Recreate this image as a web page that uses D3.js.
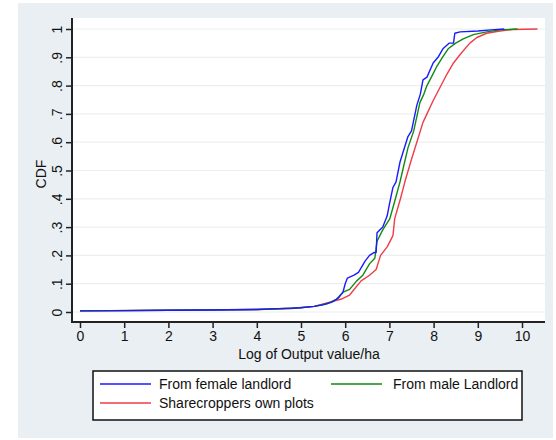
<!DOCTYPE html>
<html>
<head>
<meta charset="utf-8">
<script src="https://cdn.jsdelivr.net/npm/d3@7/dist/d3.min.js"></script>
<style>
  html, body { margin: 0; padding: 0; background: #ffffff; }
  svg { display: block; }
  text { font-family: "Liberation Sans", Arial, Helvetica, sans-serif; fill: #111; }
</style>
</head>
<body>
<svg id="chart" width="556" height="440"></svg>
<script>
// Log output value per hectare (x) and cumulative share (y) for each group
const femaleX = [0, 1, 2, 3, 4, 4.5, 5.0, 5.3, 5.5, 5.7, 5.85, 5.95, 6.0, 6.05, 6.2, 6.3, 6.45, 6.55, 6.65, 6.7, 6.72, 6.85, 6.95, 7.0, 7.08, 7.15, 7.24, 7.3, 7.42, 7.5, 7.62, 7.7, 7.76, 7.85, 7.99, 8.1, 8.21, 8.35, 8.45, 8.48, 8.6, 9.0, 9.3, 9.6];
const femaleY = [0.004, 0.005, 0.006, 0.007, 0.009, 0.012, 0.015, 0.02, 0.025, 0.035, 0.05, 0.07, 0.1, 0.12, 0.13, 0.14, 0.18, 0.2, 0.21, 0.21, 0.28, 0.3, 0.34, 0.38, 0.44, 0.46, 0.53, 0.56, 0.62, 0.64, 0.73, 0.77, 0.82, 0.83, 0.88, 0.9, 0.93, 0.95, 0.95, 0.985, 0.99, 0.993, 0.997, 1.0];

const maleX = [0, 2, 4, 4.8, 5.3, 5.6, 5.8, 5.95, 6.1, 6.26, 6.4, 6.55, 6.67, 6.72, 6.85, 7.01, 7.1, 7.24, 7.3, 7.42, 7.55, 7.69, 7.78, 7.85, 7.95, 8.08, 8.2, 8.33, 8.5, 8.67, 8.9, 9.2, 9.5, 9.9];
const maleY = [0.004, 0.006, 0.009, 0.013, 0.02, 0.03, 0.045, 0.07, 0.08, 0.11, 0.13, 0.17, 0.19, 0.25, 0.29, 0.33, 0.38, 0.46, 0.5, 0.58, 0.64, 0.74, 0.77, 0.8, 0.83, 0.87, 0.9, 0.93, 0.95, 0.965, 0.98, 0.99, 0.997, 1.0];

const ownX = [0, 2, 4, 4.8, 5.3, 5.65, 5.9, 6.1, 6.36, 6.55, 6.7, 6.8, 6.95, 7.08, 7.12, 7.25, 7.35, 7.5, 7.62, 7.76, 7.85, 8.0, 8.1, 8.3, 8.45, 8.6, 8.82, 8.98, 9.2, 9.5, 9.8, 10.35];
const ownY = [0.004, 0.006, 0.009, 0.012, 0.02, 0.035, 0.045, 0.06, 0.11, 0.13, 0.15, 0.2, 0.23, 0.27, 0.33, 0.4, 0.46, 0.54, 0.6, 0.67, 0.7, 0.75, 0.78, 0.84, 0.88, 0.91, 0.95, 0.97, 0.985, 0.993, 0.998, 1.0];

const seriesNames = ["From female landlord", "From male Landlord", "Sharecroppers own plots"];
const seriesColors = ["#1a1aff", "#118a11", "#f03c46"];

const xTicks = [0, 1, 2, 3, 4, 5, 6, 7, 8, 9, 10];
const yTicks = [0, 0.1, 0.2, 0.3, 0.4, 0.5, 0.6, 0.7, 0.8, 0.9, 1];
const yTickLabels = ["0", ".1", ".2", ".3", ".4", ".5", ".6", ".7", ".8", ".9", "1"];

const xTitle = "Log of Output value/ha";
const yTitle = "CDF";

const svg = d3.select("#chart");

// outer graph region
svg.append("rect")
  .attr("x", 18).attr("y", 3).attr("width", 535).attr("height", 435)
  .attr("fill", "#e9eff2");

// plot region bounds
const plot = { left: 72, right: 545, top: 18, bottom: 322 };
svg.append("rect")
  .attr("x", plot.left).attr("y", plot.top)
  .attr("width", plot.right - plot.left).attr("height", plot.bottom - plot.top)
  .attr("fill", "#ffffff");

const x = d3.scaleLinear().domain([0, 10]).range([80, 522]);
const y = d3.scaleLinear().domain([0, 1]).range([312, 29]);

// horizontal grid lines
svg.append("g").selectAll("line").data(yTicks).join("line")
  .attr("x1", plot.left + 1).attr("x2", plot.right)
  .attr("y1", d => y(d)).attr("y2", d => y(d))
  .attr("stroke", "#eceff0").attr("stroke-width", 1.2);

// curves
const line = d3.line().x(d => x(d[0])).y(d => y(d[1]));
const seriesData = [
  d3.zip(femaleX, femaleY),
  d3.zip(maleX, maleY),
  d3.zip(ownX, ownY)
];
// draw own plots first, then male, then female on top
[2, 1, 0].forEach(i => {
  svg.append("path")
    .datum(seriesData[i])
    .attr("fill", "none")
    .attr("stroke", seriesColors[i])
    .attr("stroke-width", 1.4)
    .attr("stroke-linejoin", "round")
    .attr("d", line);
});

// y axis
const yAxis = d3.axisLeft(y).tickValues(yTicks).tickFormat((d, i) => yTickLabels[i]).tickSize(6).tickPadding(4);
const gy = svg.append("g").attr("transform", `translate(${plot.left},0)`).call(yAxis);
gy.select(".domain").remove();
gy.selectAll(".tick line").attr("stroke", "#222").attr("stroke-width", 1.5);
gy.selectAll(".tick text")
  .attr("font-size", 14).attr("fill", "#111")
  .attr("x", null).attr("dy", null)
  .attr("text-anchor", "middle")
  .attr("transform", "translate(-10,0) rotate(-90)");
svg.append("line")
  .attr("x1", plot.left).attr("x2", plot.left)
  .attr("y1", plot.top).attr("y2", plot.bottom)
  .attr("stroke", "#222").attr("stroke-width", 2);

// x axis
const xAxis = d3.axisBottom(x).tickValues(xTicks).tickFormat(d3.format("d")).tickSize(6).tickPadding(3);
const gx = svg.append("g").attr("transform", `translate(0,${plot.bottom})`).call(xAxis);
gx.select(".domain").remove();
gx.selectAll(".tick line").attr("stroke", "#222").attr("stroke-width", 1.5);
gx.selectAll(".tick text").attr("font-size", 14).attr("fill", "#111");
svg.append("line")
  .attr("x1", plot.left - 1).attr("x2", plot.right)
  .attr("y1", plot.bottom).attr("y2", plot.bottom)
  .attr("stroke", "#222").attr("stroke-width", 2);

// axis titles
svg.append("text")
  .attr("x", 309).attr("y", 359)
  .attr("text-anchor", "middle").attr("font-size", 14)
  .text(xTitle);
svg.append("text")
  .attr("transform", "translate(46,174) rotate(-90)")
  .attr("text-anchor", "middle").attr("font-size", 14)
  .text(yTitle);

// legend
const legend = svg.append("g");
legend.append("rect")
  .attr("x", 93).attr("y", 371).attr("width", 429).attr("height", 49)
  .attr("fill", "#ffffff").attr("stroke", "#111").attr("stroke-width", 1.5);
const legendPos = [
  { lx: 100, tx: 159, y: 384 },
  { lx: 331, tx: 393, y: 384 },
  { lx: 100, tx: 159, y: 403 }
];
legendPos.forEach((p, i) => {
  legend.append("line")
    .attr("x1", p.lx).attr("x2", p.lx + 51)
    .attr("y1", p.y).attr("y2", p.y)
    .attr("stroke", seriesColors[i]).attr("stroke-width", 1.6);
  legend.append("text")
    .attr("x", p.tx).attr("y", p.y + 5)
    .attr("font-size", 14)
    .text(seriesNames[i]);
});
</script>
</body>
</html>
